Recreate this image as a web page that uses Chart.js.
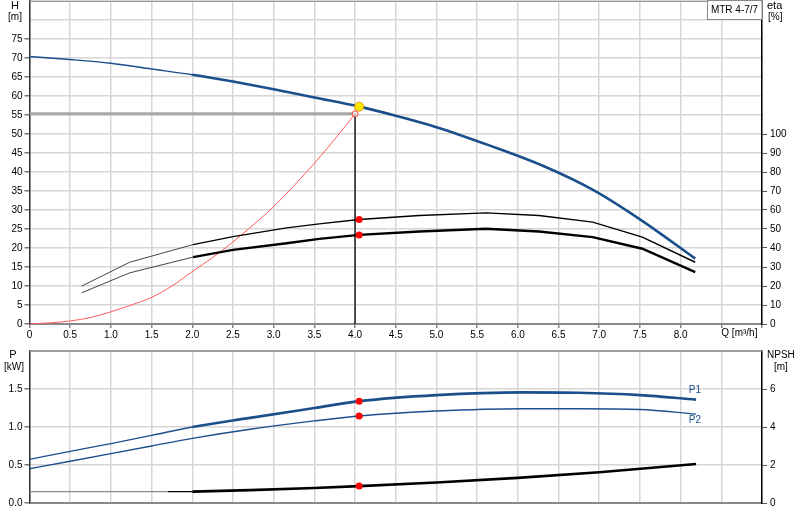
<!DOCTYPE html>
<html><head><meta charset="utf-8">
<script src="https://cdn.jsdelivr.net/npm/chart.js@4.4.1/dist/chart.umd.min.js"></script>
<style>
html,body{margin:0;padding:0;background:#fff;width:800px;height:520px;overflow:hidden}
#w1{position:absolute;left:0;top:0;width:800px;height:345px}
#w2{position:absolute;left:0;top:345px;width:800px;height:175px}
</style></head><body>
<div id="w1"><canvas id="c1"></canvas></div>
<div id="w2"><canvas id="c2"></canvas></div>
<script>
// ---------- data ----------
const modelName = 'MTR 4-7/7';
const qTickLabels = ['0','0.5','1.0','1.5','2.0','2.5','3.0','3.5','4.0','4.5','5.0','5.5','6.0','6.5','7.0','7.5','8.0','',''];
const qUnitLabel = 'Q [m³/h]';
const hTickLabels = ['0','5','10','15','20','25','30','35','40','45','50','55','60','65','70','75','',''];
const etaTickLabels = ['0','10','20','30','40','50','60','70','80','90','100'];
const pTickLabels = ['0.0','0.5','1.0','1.5',''];
const npshTickLabels = ['0','2','4','6'];

const headQ = [0, 0.5, 1.0, 1.5, 2.0, 2.5, 3.0, 3.5, 4.05, 4.5, 5.0, 5.65, 6.3, 6.94, 7.51, 8.18];
const headH = [70.4, 69.6, 68.6, 67.1, 65.6, 63.8, 61.8, 59.6, 57.2, 54.8, 51.8, 47.0, 41.7, 35.1, 27.4, 17.2];

const etaQ = [0.64, 1.23, 2.01, 2.5, 3.16, 3.56, 4.05, 4.79, 5.61, 6.26, 6.92, 7.53, 8.18];
const etaPump = [19.9, 32.5, 41.8, 46.0, 50.6, 52.7, 55.0, 57.1, 58.5, 57.1, 53.6, 45.7, 32.5];
const etaTotal = [16.4, 26.9, 35.2, 39.0, 42.5, 44.8, 46.9, 48.7, 50.1, 48.7, 45.7, 39.6, 27.3];

const sysQ = [0, 0.25, 0.5, 0.75, 1.0, 1.25, 1.5, 1.75, 2.0, 2.25, 2.5, 2.75, 3.0, 3.25, 3.5, 3.75, 4.0];
const sysH = [0, 0.3, 0.8, 1.7, 3.2, 5.0, 7.0, 10.0, 13.8, 17.5, 21.6, 26.1, 30.9, 36.4, 42.3, 48.6, 55.3];

const dutyQ = 4.0, dutyH = 55.3;
const opQ = 4.05, opH = 57.2, opEtaPump = 55.0, opEtaTotal = 46.9;

const powerQ = [0, 0.5, 1.0, 1.5, 2.0, 2.71, 3.5, 4.05, 5.0, 6.06, 6.75, 7.5, 8.19];
const powerP1 = [0.575, 0.68, 0.78, 0.89, 1.00, 1.12, 1.25, 1.34, 1.42, 1.455, 1.45, 1.42, 1.36];
const powerP2 = [0.45, 0.55, 0.65, 0.75, 0.85, 0.97, 1.08, 1.145, 1.21, 1.24, 1.24, 1.23, 1.17];

const npshQ = [0, 1.0, 1.7, 2.0, 2.71, 3.5, 4.05, 5.0, 6.0, 7.0, 8.19];
const npshM = [0.6, 0.6, 0.6, 0.6, 0.68, 0.79, 0.89, 1.08, 1.32, 1.62, 2.05];
const opP1 = 1.34, opP2 = 1.145, opNpsh = 0.89;
const seriesNames = ['P1', 'P2'];

// ---------- helpers ----------
const FONT = "'Liberation Sans', Arial, sans-serif";
const BLUE = '#1b4f8c';
const GRID = '#d6d6d6';
const pts = (xs, ys) => xs.map((x, i) => ({x: x, y: ys[i]}));
const fnt = {family: FONT, size: 10};
const noPad = s => { s.paddingTop = 0; s.paddingBottom = 0; };

function xScale(height, showLabels) {
  return {
    type: 'linear', min: 0, max: 9,
    ticks: {stepSize: 0.5, display: showLabels, autoSkip: false, maxRotation: 0, padding: 1,
      color: '#000', font: fnt, callback: (v, i) => qTickLabels[i]},
    grid: {color: GRID, lineWidth: 1.5, drawTicks: showLabels, tickLength: 4, tickColor: '#888'},
    border: {color: '#888', width: 2},
    afterFit: s => { s.height = height; s.paddingLeft = 0; s.paddingRight = 0; }
  };
}

const topPlugin = {
  id: 'topDeco',
  afterDraw(chart) {
    const c = chart.ctx, a = chart.chartArea;
    c.save();
    c.strokeStyle = '#999'; c.lineWidth = 1;
    c.beginPath(); c.moveTo(a.left, a.top + 0.5); c.lineTo(a.right, a.top + 0.5); c.stroke();
    c.fillStyle = '#000'; c.textBaseline = 'middle';
    c.textAlign = 'center';
    c.font = '11px ' + FONT;
    c.fillText('H', 15, 6);
    c.font = '10px ' + FONT;
    c.fillText('[m]', 15, 17);
    c.textAlign = 'left';
    c.font = '11px ' + FONT;
    c.fillText('eta', 767, 6);
    c.font = '10px ' + FONT;
    c.fillText('[%]', 768, 17);
    const xs = chart.scales.x;
    c.fillText(qUnitLabel, xs.getPixelForValue(8.5), 333);
    const bx = 707, bw = a.right - bx, by = 0.5, bh = 19;
    c.fillStyle = '#fff'; c.fillRect(bx, by, bw, bh);
    c.strokeStyle = '#888'; c.lineWidth = 1;
    c.strokeRect(bx + 0.5, by, bw - 0.5, bh);
    c.fillStyle = '#000'; c.textAlign = 'center';
    c.fillText(modelName, bx + bw / 2, 10);
    c.restore();
  }
};

const botPlugin = {
  id: 'botDeco',
  afterDraw(chart) {
    const c = chart.ctx, a = chart.chartArea;
    c.save();
    c.strokeStyle = '#888'; c.lineWidth = 1.5;
    c.beginPath(); c.moveTo(a.left, a.top); c.lineTo(a.right, a.top); c.stroke();
    c.fillStyle = '#000'; c.textBaseline = 'middle'; c.textAlign = 'center';
    c.font = '11px ' + FONT;
    c.fillText('P', 13, 10);
    c.font = '10px ' + FONT;
    c.fillText('[kW]', 14, 22);
    c.textAlign = 'left';
    c.fillText('NPSH', 767, 10);
    c.fillText('[m]', 774, 22);
    const xs = chart.scales.x, ys = chart.scales.yP;
    c.fillStyle = BLUE;
    c.fillText(seriesNames[0], xs.getPixelForValue(8.1), ys.getPixelForValue(1.48));
    c.fillText(seriesNames[1], xs.getPixelForValue(8.1), ys.getPixelForValue(1.09));
    c.restore();
  }
};

// ---------- top chart ----------
new Chart(document.getElementById('c1'), {
  type: 'line',
  data: {datasets: [
    {data: [{x: opQ, y: opH}], yAxisID: 'yH', showLine: false, pointRadius: 4.5,
      pointBackgroundColor: '#ffe600', pointBorderColor: '#e89a00', pointBorderWidth: 1},
    {data: [{x: opQ, y: opEtaPump}, {x: opQ, y: opEtaTotal}], yAxisID: 'yE', showLine: false,
      pointRadius: 3.5, pointBackgroundColor: '#ff0000', pointBorderColor: '#ff0000', pointBorderWidth: 0},
    {data: pts(headQ, headH), yAxisID: 'yH', borderColor: BLUE, pointRadius: 0,
      cubicInterpolationMode: 'monotone',
      segment: {borderWidth: ctx => headQ[ctx.p0DataIndex] >= 1.99 ? 2.6 : 1.4}},
    {data: pts(etaQ, etaPump), yAxisID: 'yE', borderColor: '#000', pointRadius: 0, tension: 0,
      segment: {borderWidth: ctx => etaQ[ctx.p0DataIndex] >= 1.99 ? 1.4 : 1,
                borderColor: ctx => etaQ[ctx.p0DataIndex] >= 1.99 ? '#000' : '#444'}},
    {data: pts(etaQ, etaTotal), yAxisID: 'yE', borderColor: '#000', pointRadius: 0, tension: 0,
      segment: {borderWidth: ctx => etaQ[ctx.p0DataIndex] >= 1.99 ? 2.4 : 1,
                borderColor: ctx => etaQ[ctx.p0DataIndex] >= 1.99 ? '#000' : '#444'}},
    {data: pts(sysQ, sysH), yAxisID: 'yH', borderColor: '#ff5a5a', borderWidth: 1,
      cubicInterpolationMode: 'monotone',
      pointRadius: ctx => ctx.dataIndex === sysQ.length - 1 ? 3 : 0,
      pointBackgroundColor: 'rgba(255,255,255,0.6)', pointBorderColor: '#ff4040', pointBorderWidth: 1},
    {data: [{x: dutyQ, y: dutyH}, {x: dutyQ, y: 0}], yAxisID: 'yH', borderColor: '#000',
      borderWidth: 1.3, pointRadius: 0},
    {data: [{x: 0, y: dutyH}, {x: dutyQ, y: dutyH}], yAxisID: 'yH', borderColor: '#a8a8a8',
      borderWidth: 3, pointRadius: 0}
  ]},
  options: {
    responsive: true, maintainAspectRatio: false, animation: false,
    layout: {autoPadding: false, padding: {top: 1, left: 0, right: 0, bottom: 0}},
    plugins: {legend: {display: false}, tooltip: {enabled: false}},
    elements: {line: {fill: false}},
    scales: {
      x: xScale(21, true),
      yH: {position: 'left', min: 0, max: 85,
        ticks: {stepSize: 5, color: '#000', font: fnt, padding: 2, autoSkip: false,
          callback: (v, i) => hTickLabels[i]},
        grid: {color: GRID, lineWidth: 1.5, tickLength: 5,
          tickColor: ctx => (ctx.tick && ctx.tick.value <= 75) ? '#777' : 'rgba(0,0,0,0)'},
        border: {color: '#333', width: 1.5},
        afterFit: s => { s.width = 29.5; noPad(s); }},
      yE: {position: 'right', min: 0, max: 170,
        ticks: {stepSize: 10, color: '#000', font: fnt, padding: 3, autoSkip: false,
          callback: (v, i) => etaTickLabels[i]},
        afterBuildTicks: s => { s.ticks = s.ticks.filter(t => t.value <= 100); },
        grid: {drawOnChartArea: false, tickLength: 5, tickColor: '#555'},
        border: {color: '#000', width: 1.5},
        afterFit: s => { s.width = 38; noPad(s); }}
    }
  },
  plugins: [topPlugin]
});

// ---------- bottom chart ----------
new Chart(document.getElementById('c2'), {
  type: 'line',
  data: {datasets: [
    {data: [{x: opQ, y: opP1}, {x: opQ, y: opP2}], yAxisID: 'yP', showLine: false,
      pointRadius: 3.5, pointBackgroundColor: '#ff0000', pointBorderWidth: 0},
    {data: [{x: opQ, y: opNpsh}], yAxisID: 'yN', showLine: false,
      pointRadius: 3.5, pointBackgroundColor: '#ff0000', pointBorderWidth: 0},
    {data: pts(powerQ, powerP1), yAxisID: 'yP', borderColor: BLUE, pointRadius: 0,
      cubicInterpolationMode: 'monotone',
      segment: {borderWidth: ctx => powerQ[ctx.p0DataIndex] >= 1.99 ? 2.6 : 1.3}},
    {data: pts(powerQ, powerP2), yAxisID: 'yP', borderColor: BLUE, borderWidth: 1.4, pointRadius: 0,
      cubicInterpolationMode: 'monotone'},
    {data: pts(npshQ, npshM), yAxisID: 'yN', borderColor: '#000', borderWidth: 1.3, pointRadius: 0,
      tension: 0,
      segment: {borderWidth: ctx => npshQ[ctx.p0DataIndex] >= 1.99 ? 2.6 : 1.3,
                borderColor: ctx => npshQ[ctx.p0DataIndex] >= 1.69 ? '#000' : '#8a8a8a'}}
  ]},
  options: {
    responsive: true, maintainAspectRatio: false, animation: false,
    layout: {autoPadding: false, padding: {top: 6, left: 0, right: 0, bottom: 0}},
    plugins: {legend: {display: false}, tooltip: {enabled: false}},
    elements: {line: {fill: false}},
    scales: {
      x: xScale(17, false),
      yP: {position: 'left', min: 0, max: 2,
        ticks: {stepSize: 0.5, color: '#000', font: fnt, padding: 2, autoSkip: false,
          callback: (v, i) => pTickLabels[i]},
        grid: {color: GRID, lineWidth: 1.5, tickLength: 5,
          tickColor: ctx => (ctx.tick && ctx.tick.value <= 1.5) ? '#777' : 'rgba(0,0,0,0)'},
        border: {color: '#333', width: 1.5},
        afterFit: s => { s.width = 29.5; noPad(s); }},
      yN: {position: 'right', min: 0, max: 8,
        ticks: {stepSize: 2, color: '#000', font: fnt, padding: 3, autoSkip: false,
          callback: (v, i) => npshTickLabels[i]},
        afterBuildTicks: s => { s.ticks = s.ticks.filter(t => t.value <= 6); },
        grid: {drawOnChartArea: false, tickLength: 5, tickColor: '#555'},
        border: {color: '#000', width: 1.5},
        afterFit: s => { s.width = 38; noPad(s); }}
    }
  },
  plugins: [botPlugin]
});
</script>
</body></html>
